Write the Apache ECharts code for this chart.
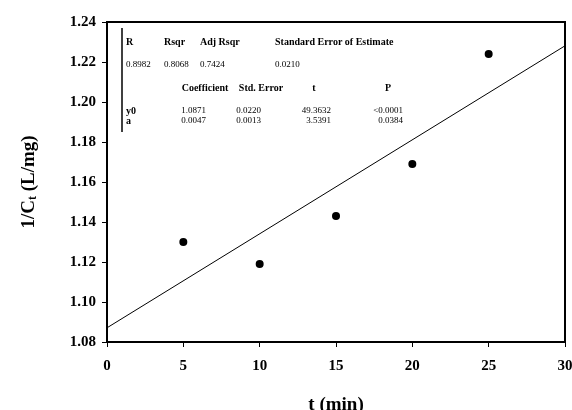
<!DOCTYPE html>
<html><head><meta charset="utf-8">
<script src="https://cdn.jsdelivr.net/npm/echarts@6/dist/echarts.min.js"></script>
<style>html,body{margin:0;padding:0;background:#fff}#c{width:572px;height:410px}</style>
</head><body><div id="c"></div>
<script>
const tValues = [5, 10, 15, 20, 25];
const invC = [1.130, 1.119, 1.143, 1.169, 1.224];
const fitX = [0, 30];
const fitIntercept = 1.0871;
const fitSlope = 0.0047;
const statHeaders1 = ['R', 'Rsqr', 'Adj Rsqr', 'Standard Error of Estimate'];
const statValues1 = ['0.8982', '0.8068', '0.7424', '0.0210'];
const statHeaders2 = ['Coefficient', 'Std. Error', 't', 'P'];
const rowNames = ['y0', 'a'];
const rowY0 = ['1.0871', '0.0220', '49.3632', '<0.0001'];
const rowA = ['0.0047', '0.0013', '3.5391', '0.0384'];

const FONT = '"Liberation Serif", "Times New Roman", serif';
const chart = echarts.init(document.getElementById('c'), null, {renderer: 'canvas'});

function txt(x, y, s, bold, align) {
  return {type: 'text', x: x, y: y, style: {text: s, fontFamily: FONT, fontSize: bold ? 10 : 9, fontWeight: bold ? 'bold' : 'normal', fill: '#000', textAlign: align || 'left', textVerticalAlign: 'middle'}};
}
const g = [];
g.push({type: 'line', shape: {x1: 122, y1: 28, x2: 122, y2: 132}, style: {stroke: '#000', lineWidth: 1.5}});
const h1x = [126, 164, 200, 275];
statHeaders1.forEach((s, i) => g.push(txt(h1x[i], 42, s, true)));
statValues1.forEach((s, i) => g.push(txt(h1x[i], 65, s, false)));
const h2x = [205, 261, 314, 388];
statHeaders2.forEach((s, i) => g.push(txt(h2x[i], 88, s, true, 'center')));
const colR = [206, 261, 331, 403];
g.push(txt(126, 111, rowNames[0], true));
g.push(txt(126, 121, rowNames[1], true));
rowY0.forEach((s, i) => g.push(txt(colR[i], 111, s, false, 'right')));
rowA.forEach((s, i) => g.push(txt(colR[i], 121, s, false, 'right')));

chart.setOption({
  backgroundColor: '#fff',
  animation: false,
  grid: {left: 107, right: 7, top: 22, bottom: 68, show: true, borderColor: '#000', borderWidth: 2, backgroundColor: 'transparent', containLabel: false, outerBoundsMode: 'none'},
  xAxis: {
    type: 'value', min: 0, max: 30, interval: 5,
    name: 't (min)', nameLocation: 'middle', nameGap: 54,
    nameTextStyle: {fontFamily: FONT, fontSize: 19, fontWeight: 'bold', color: '#000'},
    axisLine: {show: true, lineStyle: {color: '#000', width: 2}},
    axisTick: {show: true, inside: false, length: 5, lineStyle: {color: '#000', width: 1}},
    axisLabel: {fontFamily: FONT, fontSize: 15, fontWeight: 'bold', color: '#000', margin: 17},
    splitLine: {show: false}
  },
  yAxis: {
    type: 'value', min: 1.08, max: 1.24, interval: 0.02,
    name: '{a|1/C}{s|t}{a| (L/mg)}', nameLocation: 'middle', nameGap: 68, nameRotate: 90,
    nameTextStyle: {rich: {
      a: {fontFamily: FONT, fontSize: 19, fontWeight: 'bold', color: '#000'},
      s: {fontFamily: FONT, fontSize: 12, fontWeight: 'bold', color: '#000', padding: [8, 0, 0, 0]}
    }},
    axisLine: {show: true, lineStyle: {color: '#000', width: 2}},
    axisTick: {show: true, inside: false, length: 5, lineStyle: {color: '#000', width: 1}},
    axisLabel: {fontFamily: FONT, fontSize: 15, fontWeight: 'bold', color: '#000', margin: 11, formatter: v => v.toFixed(2)},
    splitLine: {show: false}
  },
  series: [
    {type: 'line', data: fitX.map(x => [x, fitIntercept + fitSlope * x]), symbol: 'none', lineStyle: {color: '#000', width: 1}, silent: true},
    {type: 'scatter', data: tValues.map((t, i) => [t, invC[i]]), symbol: 'circle', symbolSize: 8, itemStyle: {color: '#000', opacity: 1}}
  ],
  graphic: g
});
</script></body></html>
